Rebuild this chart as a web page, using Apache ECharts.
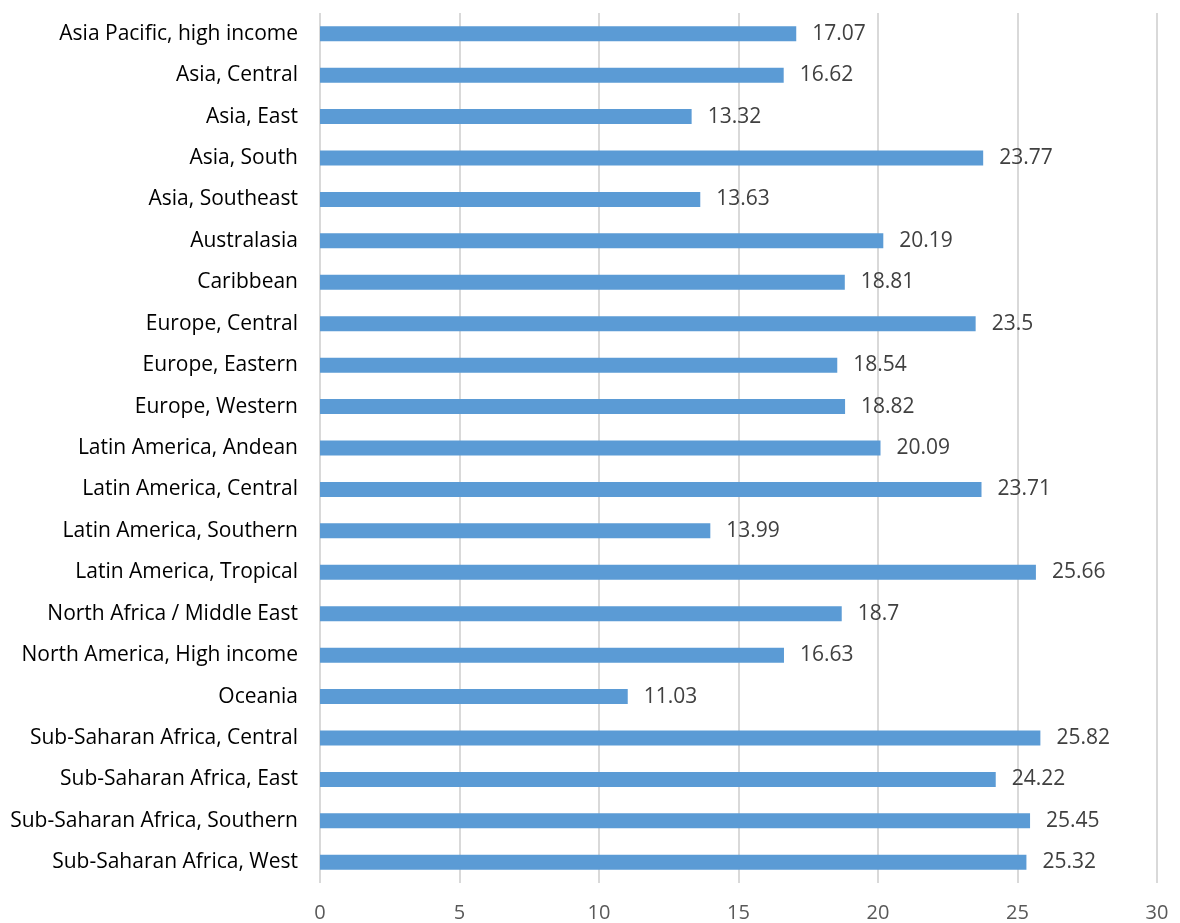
<!DOCTYPE html>
<html><head><meta charset="utf-8">
<script src="https://cdn.jsdelivr.net/npm/echarts@6/dist/echarts.min.js"></script>
<style>html,body{margin:0;padding:0;background:#fff}#c{width:1180px;height:923px}</style>
</head><body><div id="c"></div>
<script>
const categories = ["Asia Pacific, high income","Asia, Central","Asia, East","Asia, South","Asia, Southeast","Australasia","Caribbean","Europe, Central","Europe, Eastern","Europe, Western","Latin America, Andean","Latin America, Central","Latin America, Southern","Latin America, Tropical","North Africa / Middle East","North America, High income","Oceania","Sub-Saharan Africa, Central","Sub-Saharan Africa, East","Sub-Saharan Africa, Southern","Sub-Saharan Africa, West"];
const values = [17.07,16.62,13.32,23.77,13.63,20.19,18.81,23.5,18.54,18.82,20.09,23.71,13.99,25.66,18.7,16.63,11.03,25.82,24.22,25.45,25.32];
const xTicks = [0,5,10,15,20,25,30];
const FONT = "'Open Sans', sans-serif";
const chart = echarts.init(document.getElementById('c'));
chart.setOption({
  animation:false,
  grid:{left:320,right:23,top:13,bottom:40,containLabel:false},
  xAxis:{type:'value',min:xTicks[0],max:xTicks[xTicks.length-1],interval:5,
    axisLine:{show:false},axisTick:{show:false},
    splitLine:{show:true,lineStyle:{color:'#d9d9d9',width:2}},
    axisLabel:{color:'#595959',fontSize:20,fontFamily:FONT,margin:20}},
  yAxis:{type:'category',data:categories,inverse:true,
    axisLine:{show:false},axisTick:{show:false},
    axisLabel:{color:'#000',fontSize:21,fontFamily:FONT,margin:22}},
  series:[{type:'bar',data:values,barWidth:15,
    itemStyle:{color:'#5b9bd5'},
    label:{show:true,position:'right',distance:16,color:'#404040',fontSize:21,fontFamily:FONT}}]
});
</script></body></html>
